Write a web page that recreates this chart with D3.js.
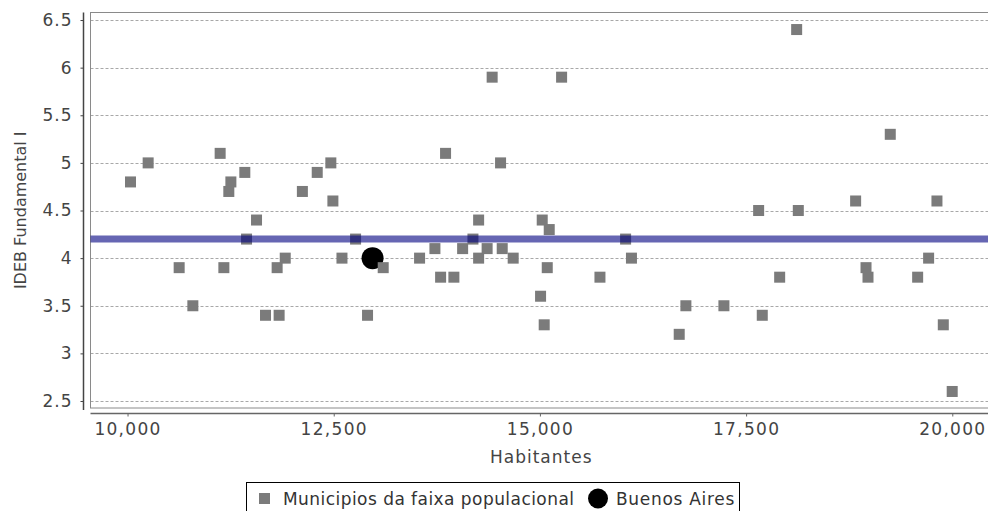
<!DOCTYPE html>
<html>
<head>
<meta charset="utf-8">
<script src="https://cdn.jsdelivr.net/npm/d3@7"></script>
<style>
  html, body { margin: 0; padding: 0; background: #fff; }
  svg { display: block; }
  text { font-family: "DejaVu Sans", Verdana, sans-serif; }
</style>
</head>
<body>
<svg id="chart" width="988" height="511"></svg>
<script>
// ---- data ----
const habitantes = [10036, 10250, 10626, 10792, 11123, 11168, 11228, 11253, 11422, 11443,
  11564, 11673, 11814, 11838, 11912, 12120, 12300, 12465, 12490, 12600,
  12765, 12910, 13100, 13541, 13727, 13796, 13856, 13957, 14063, 14188,
  14257, 14257, 14360, 14421, 14523, 14543, 14676, 15008, 15028, 15052,
  15089, 15113, 15263, 15728, 16039, 16110, 16689, 16770, 17231, 17652,
  17696, 17907, 18113, 18133, 18828, 18954, 18978, 19248, 19580, 19713,
  19814, 19891, 19999];
const ideb = [4.8, 5.0, 3.9, 3.5, 5.1, 3.9, 4.7, 4.8, 4.9, 4.2,
  4.4, 3.4, 3.9, 3.4, 4.0, 4.7, 4.9, 5.0, 4.6, 4.0,
  4.2, 3.4, 3.9, 4.0, 4.1, 3.8, 5.1, 3.8, 4.1, 4.2,
  4.4, 4.0, 4.1, 5.9, 5.0, 4.1, 4.0, 3.6, 4.4, 3.3,
  3.9, 4.3, 5.9, 3.8, 4.2, 4.0, 3.2, 3.5, 3.5, 4.5,
  3.4, 3.8, 6.4, 4.5, 4.6, 3.9, 3.8, 5.3, 3.8, 4.0,
  4.6, 3.3, 2.6];
const buenosAiresHab = [12971];
const buenosAiresIdeb = [4.0];
const mediaIdeb = [4.2];
const xTicks = [10000, 12500, 15000, 17500, 20000];
const yTicks = [2.5, 3, 3.5, 4, 4.5, 5, 5.5, 6, 6.5];
const xDomain = [9551, 20433];
const yDomain = [2.4265, 6.579];
const seriesNames = ["Municipios da faixa populacional", "Buenos Aires"];
const xTitle = "Habitantes";
const yTitle = "IDEB Fundamental I";

// ---- layout ----
const svg = d3.select("#chart");
const plot = { left: 90.5, right: 988, top: 12.5, bottom: 408 };
const x = d3.scaleLinear().domain(xDomain).range([plot.left, plot.right]);
const y = d3.scaleLinear().domain(yDomain).range([plot.bottom, plot.top]);
const fmt = d3.format(",");

// gridlines
svg.append("g").selectAll("line").data(yTicks).join("line")
  .attr("x1", plot.left).attr("x2", plot.right)
  .attr("y1", d => Math.round(y(d)) + 0.5).attr("y2", d => Math.round(y(d)) + 0.5)
  .attr("stroke", "#a8a8a8").attr("stroke-width", 1).attr("stroke-dasharray", "3,2");

// plot outline
svg.append("rect")
  .attr("x", plot.left).attr("y", plot.top)
  .attr("width", plot.right - plot.left + 5).attr("height", plot.bottom - plot.top)
  .attr("fill", "none").attr("stroke", "#8a8a8a").attr("stroke-width", 1);

// y axis
const yAxis = d3.axisLeft(y).tickValues(yTicks).tickSize(3).tickPadding(8)
  .tickFormat(d => d3.format("")(d));
const gy = svg.append("g").attr("transform", "translate(83.5,0)").call(yAxis);
gy.select(".domain").attr("stroke", "#444").attr("stroke-width", 1.5)
  .attr("d", `M0,${plot.top}V${plot.bottom + 2}`);
gy.selectAll(".tick line").attr("stroke", "#444");
gy.selectAll(".tick text").attr("fill", "#444").style("font-size", "17px")
  .style("letter-spacing", "1px").attr("font-family", "DejaVu Sans");

// x axis
const xAxis = d3.axisBottom(x).tickValues(xTicks).tickSize(3).tickPadding(6).tickFormat(fmt);
const gx = svg.append("g").attr("transform", "translate(0,413.5)").call(xAxis);
gx.select(".domain").attr("d", `M${plot.left},0H${plot.right}`).attr("stroke", "#666").attr("stroke-width", 1.5);
gx.selectAll(".tick line").attr("stroke", "#666");
gx.selectAll(".tick text").attr("fill", "#444").style("font-size", "17px")
  .style("letter-spacing", "1.3px").attr("font-family", "DejaVu Sans");

// axis titles
svg.append("text").attr("x", (plot.left + 988) / 2 + 2).attr("y", 463)
  .attr("text-anchor", "middle").attr("fill", "#444").style("font-size", "17px")
  .style("letter-spacing", "1px").text(xTitle);
svg.append("text").attr("transform", `translate(26,${(plot.top + plot.bottom) / 2}) rotate(-90)`)
  .attr("text-anchor", "middle").attr("fill", "#444").style("font-size", "16px").text(yTitle);

// Buenos Aires
svg.append("g").selectAll("circle").data(buenosAiresHab.map((h, i) => ({ h, v: buenosAiresIdeb[i] })))
  .join("circle")
  .attr("cx", d => x(d.h)).attr("cy", d => y(d.v)).attr("r", 11).attr("fill", "#000");

// municipios squares
const sq = 11;
svg.append("g").selectAll("rect").data(habitantes.map((h, i) => ({ h, v: ideb[i] })))
  .join("rect")
  .attr("x", d => x(d.h) - sq / 2).attr("y", d => y(d.v) - sq / 2)
  .attr("width", sq).attr("height", sq)
  .attr("fill", "#7b7b7b");

// media line
svg.append("g").selectAll("line").data(mediaIdeb).join("line")
  .attr("x1", plot.left).attr("x2", plot.right)
  .attr("y1", d => y(d)).attr("y2", d => y(d))
  .attr("stroke", "rgb(0,0,128)").attr("stroke-opacity", 0.6).attr("stroke-width", 7);

// legend
const lg = svg.append("g");
lg.append("rect").attr("x", 246.5).attr("y", 482.5).attr("width", 493).attr("height", 40)
  .attr("fill", "#fff").attr("stroke", "#000").attr("stroke-width", 1);
lg.append("rect").attr("x", 259).attr("y", 493).attr("width", 11).attr("height", 11).attr("fill", "#7b7b7b");
lg.append("text").attr("x", 283).attr("y", 505).attr("fill", "#333").style("font-size", "17px")
  .style("letter-spacing", "0.45px").text(seriesNames[0]);
lg.append("circle").attr("cx", 598).attr("cy", 498.5).attr("r", 10).attr("fill", "#000");
lg.append("text").attr("x", 616).attr("y", 505).attr("fill", "#333").style("font-size", "17px")
  .style("letter-spacing", "0.7px").text(seriesNames[1]);
</script>
</body>
</html>
